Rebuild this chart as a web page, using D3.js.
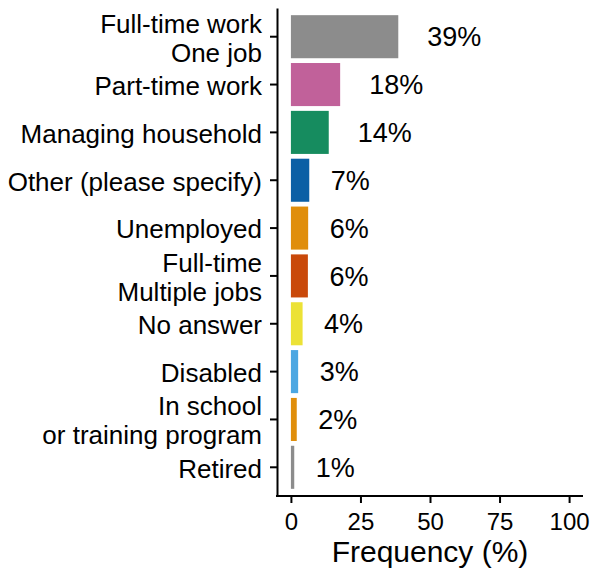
<!DOCTYPE html>
<html>
<head>
<meta charset="utf-8">
<script src="https://cdn.jsdelivr.net/npm/d3@7"></script>
<style>
  body { margin: 0; background: #fff; }
  text { font-family: "Liberation Sans", Arial, sans-serif; fill: #000; }
</style>
</head>
<body>
<div id="chart"></div>
<script>
const categories = [
  "Full-time work\nOne job",
  "Part-time work",
  "Managing household",
  "Other (please specify)",
  "Unemployed",
  "Full-time\nMultiple jobs",
  "No answer",
  "Disabled",
  "In school\nor training program",
  "Retired"
];
const frequency = [38.6, 17.7, 13.6, 6.6, 6.2, 6.1, 4.2, 2.6, 2.1, 1.2];
const barColors = ["#8c8c8c", "#c1619a", "#168c5f", "#0b5fa5", "#e08e0b",
                   "#c9490a", "#ece236", "#4ca7e2", "#e08e0b", "#8c8c8c"];
const xTicks = [0, 25, 50, 75, 100];

const config = { width: 591, height: 575, left: 277, right: 583, top: 8, bottom: 496 };

const svg = d3.select("#chart")
  .append("svg")
  .attr("width", config.width)
  .attr("height", config.height);

const data = categories.map((c, i) => ({ cat: c, value: frequency[i], color: barColors[i] }));

const xScale = d3.scaleLinear().domain([-5, 105]).range([config.left, config.right]);
const yScale = d3.scaleBand()
  .domain(categories)
  .range([config.top, config.bottom])
  .paddingInner(0.1)
  .paddingOuter(0.15);

// bars
svg.append("g")
  .selectAll("rect")
  .data(data)
  .join("rect")
    .attr("x", xScale(0))
    .attr("y", d => yScale(d.cat))
    .attr("width", d => xScale(d.value) - xScale(0))
    .attr("height", yScale.bandwidth())
    .attr("fill", d => d.color);

// value labels, pushed right by a bit more than half their width
svg.append("g")
  .selectAll("text")
  .data(data)
  .join("text")
    .attr("y", d => yScale(d.cat) + yScale.bandwidth() / 2)
    .attr("dy", "0.36em")
    .style("font-size", "27px")
    .text(d => Math.round(d.value) + "%")
    .attr("x", function(d) { return xScale(d.value) + 2 + this.getComputedTextLength() / 2; });

// y axis
const labelSize = 26;
const yAxis = d3.axisLeft(yScale).tickSize(7).tickSizeOuter(0).tickPadding(8);
const gy = svg.append("g")
  .attr("transform", `translate(${config.left},0)`)
  .call(yAxis);
gy.select(".domain").attr("stroke-width", 2);
gy.selectAll(".tick line").attr("stroke-width", 2);
gy.selectAll(".tick text").each(function(d) {
  const t = d3.select(this);
  const lines = d.split("\n");
  const lh = 29;
  t.text(null)
    .attr("font-size", null)
    .attr("font-family", null)
    .style("font-size", labelSize + "px");
  lines.forEach((line, i) => {
    t.append("tspan")
      .attr("x", -15)
      .attr("dy", i === 0 ? `${0.4 * labelSize - (lines.length - 1) * lh / 2}px` : `${lh}px`)
      .text(line);
  });
}).attr("dy", null);

// x axis
const xAxis = d3.axisBottom(xScale).tickValues(xTicks).tickSize(7).tickSizeOuter(0).tickPadding(10);
const gx = svg.append("g")
  .attr("transform", `translate(0,${config.bottom})`)
  .call(xAxis);
gx.select(".domain").attr("stroke-width", 2).attr("d", `M${config.left - 1},0H${config.right}`);
gx.selectAll(".tick line").attr("stroke-width", 2);
gx.selectAll(".tick text")
  .attr("font-size", null)
  .attr("font-family", null)
  .style("font-size", "24px");

svg.append("text")
  .attr("x", (config.left + config.right) / 2)
  .attr("y", 562)
  .attr("text-anchor", "middle")
  .style("font-size", "30px")
  .text("Frequency (%)");
</script>
</body>
</html>
